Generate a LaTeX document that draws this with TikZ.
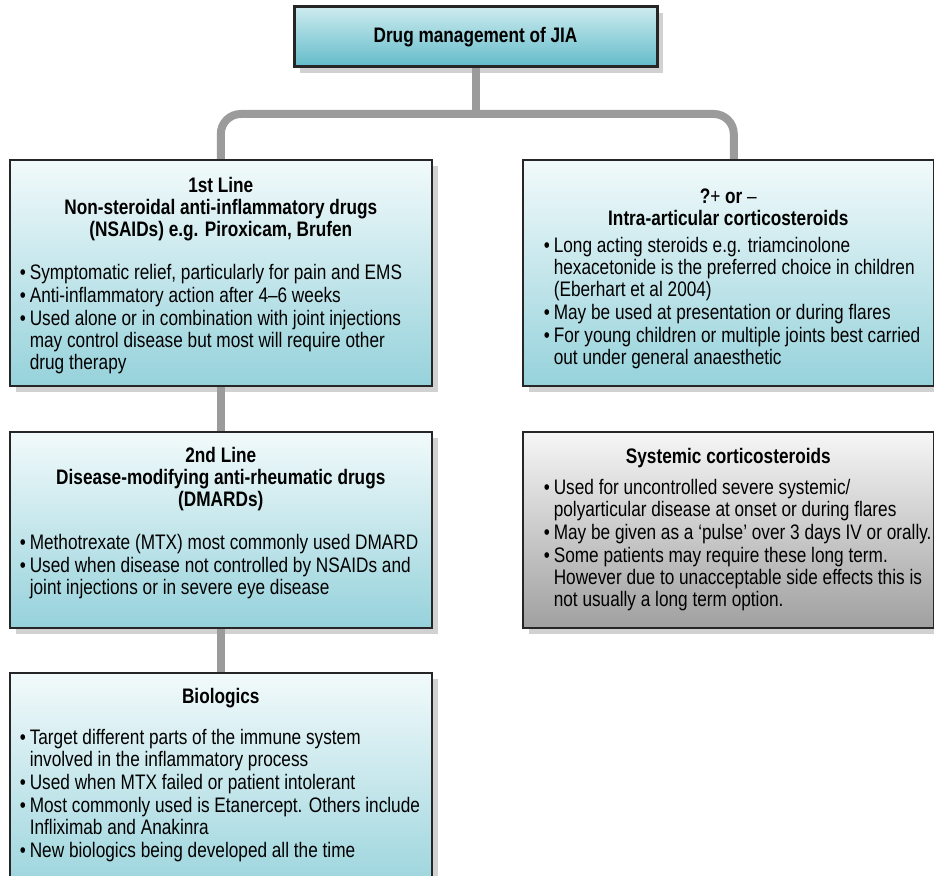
\documentclass[tikz,border=0pt]{standalone}
\usepackage{fontspec}
\setmainfont{Liberation Sans}[FakeStretch=0.82]
\usetikzlibrary{shadows}

\definecolor{headtop}{RGB}{205,235,239}
\definecolor{headbot}{RGB}{98,187,201}
\definecolor{cardtop}{RGB}{242,250,251}
\definecolor{cardbot}{RGB}{150,210,219}
\definecolor{greytop}{RGB}{246,246,246}
\definecolor{greybot}{RGB}{160,160,160}
\definecolor{linkgrey}{RGB}{155,155,155}

% left indent of the bullet lists, set per box
\newlength{\lpad}
\newcommand{\head}[1]{{\centering\bfseries #1\par}}
\newcommand{\bul}[1]{\par\leftskip=\lpad\rightskip=0pt plus 1fil\parfillskip=0pt plus 1fil
  \hangindent=5pt\hangafter=1\noindent\makebox[5pt][l]{\textbullet}#1}

\begin{document}
\begin{tikzpicture}[x=0.5pt,y=-0.5pt]
   \tikzstyle{card}=[draw=black!85,line width=0.8pt,inner sep=0pt,anchor=north west,
      top color=cardtop,bottom color=cardbot,
      drop shadow={shadow xshift=3pt,shadow yshift=-3pt,fill=black,opacity=0.18},
      font=\fontsize{10.5pt}{11pt}\selectfont]
   \tikzstyle{link}=[draw=linkgrey,line width=4pt,rounded corners=10pt]

   \useasboundingbox (0,0) rectangle (934,876);

   \node (top) [card,anchor=center,minimum width=181.5pt,minimum height=30pt,line width=1.5pt,
      top color=headtop,bottom color=headbot] at (475.5,37) {\bfseries Drug management of JIA};

   % first and second line, left column
   \node (nsaid) [card] at (9,159) {\parbox[c][113pt][t]{211pt}{\setlength{\lpad}{5pt}\parskip=0.5pt
      \vspace*{8pt}
      \head{1st Line\\Non-steroidal anti-inflammatory drugs\\(NSAIDs) e.g. Piroxicam, Brufen}
      \vspace{10pt}
      \bul{Symptomatic relief, particularly for pain and EMS}
      \bul{Anti-inflammatory action after 4--6 weeks}
      \bul{Used alone or in combination with joint injections\\may control disease but most will require other\\drug therapy}}};

   \node (dmard) [card] at (9,431) {\parbox[c][98pt][t]{211pt}{\setlength{\lpad}{5pt}\parskip=0.5pt
      \vspace*{7pt}
      \head{2nd Line\\Disease-modifying anti-rheumatic drugs\\(DMARDs)}
      \vspace{10pt}
      \bul{Methotrexate (MTX) most commonly used DMARD}
      \bul{Used when disease not controlled by NSAIDs and\\joint injections or in severe eye disease}}};

   \node (bio) [card] at (9,672) {\parbox[c][115pt][t]{211pt}{\setlength{\lpad}{5pt}\parskip=0.5pt
      \vspace*{7.3pt}
      \head{Biologics}
      \vspace{9pt}
      \bul{Target different parts of the immune system\\involved in the inflammatory process}
      \bul{Used when MTX failed or patient intolerant}
      \bul{Most commonly used is Etanercept. Others include\\Infliximab and Anakinra}
      \bul{New biologics being developed all the time}}};

   % steroids, right column
   \node (intra) [card] at (522,159) {\parbox[c][113pt][t]{205.5pt}{\setlength{\lpad}{10.5pt}\parskip=0.5pt
      \vspace*{14pt}
      \head{?{\mdseries +} or {\mdseries --}\\Intra-articular corticosteroids}
      \vspace{2pt}
      \bul{Long acting steroids e.g. triamcinolone\\hexacetonide is the preferred choice in children\\(Eberhart et al 2004)}
      \bul{May be used at presentation or during flares}
      \bul{For young children or multiple joints best carried\\out under general anaesthetic}}};

   \node (sys) [card,top color=greytop,bottom color=greybot] at (522,431) {\parbox[c][98pt][t]{205.5pt}{\setlength{\lpad}{10.5pt}\parskip=0.5pt
      \vspace*{7.8pt}
      \head{Systemic corticosteroids}
      \vspace{4pt}
      \bul{Used for uncontrolled severe systemic/\\polyarticular disease at onset or during flares}
      \bul{May be given as a ‘pulse’ over 3 days IV or orally.}
      \bul{Some patients may require these long term.\\However due to unacceptable side effects this is\\not usually a long term option.}}};

   \coordinate (fork) at (475.5,114);
   \draw [link] (top) -- (fork);
   \draw [link] (nsaid.north) |- (fork) -| ([xshift=2.75pt]intra.north);
   \draw [link] (nsaid) -- (dmard);
   \draw [link] (dmard) -- (bio);

\end{tikzpicture}
\end{document}
